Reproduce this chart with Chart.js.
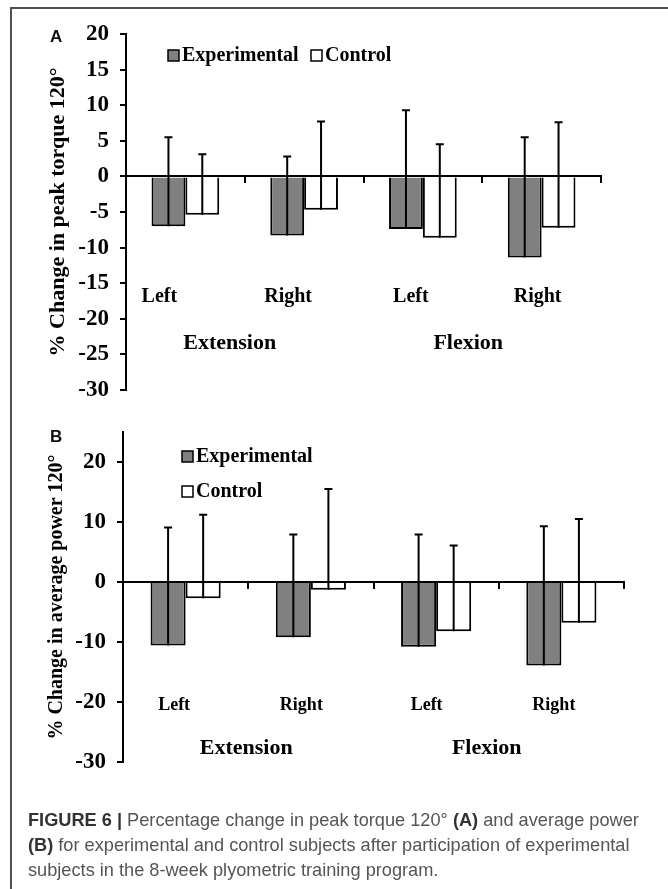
<!DOCTYPE html>
<html>
  <head>
    <script src="https://cdn.jsdelivr.net/npm/chart.js@4.4.0/dist/chart.umd.min.js"></script>
    <style>
      body {
        margin: 0;
        background: #fff;
        width: 668px;
        height: 889px;
        overflow: hidden;
        position: relative;
      }
      /* frame line round the figure (top and left only) */
      .frame {
        position: absolute;
        left: 10px;
        top: 7px;
        right: -5px;
        bottom: -5px;
        border-top: 2px solid #505050;
        border-left: 2px solid #505050;
      }
      canvas {
        position: absolute;
        left: 0;
      }
      .tag {
        position: absolute;
        left: 50px;
        font: bold 17px "Liberation Sans", Arial, sans-serif;
        color: #111;
      }
      .caption {
        position: absolute;
        left: 28px;
        top: 808px;
        width: 635px;
        font: 18.2px "Liberation Sans", Arial, sans-serif;
        line-height: 25px;
        color: #555;
        white-space: nowrap;
      }
      .caption b {
        color: #333;
      }
    </style>
  </head>
  <body>
    <div class="frame"></div>
    <canvas id="chartA" width="668" height="420" style="top:0px"></canvas>
    <canvas id="chartB" width="668" height="400" style="top:400px"></canvas>
    <div class="tag" style="top:27px">A</div>
    <div class="tag" style="top:427px">B</div>
    <div class="caption">
      <b>FIGURE 6 |</b> Percentage change in peak torque 120° <b>(A)</b> and average power<br>
      <b>(B)</b> for experimental and control subjects after participation of experimental<br>
      subjects in the 8-week plyometric training program.
    </div>
    <script>
      // categories
      var groups = ["Extension", "Flexion"];
      var sides = ["Left", "Right", "Left", "Right"];
      var seriesNames = ["Experimental", "Control"];

      // panel A: % change in peak torque 120°
      var torqueExp = [-7.0, -8.3, -7.4, -11.4];
      var torqueCtl = [-5.4, -4.7, -8.6, -7.2];
      var torqueExpSD = [12.5, 11.1, 16.7, 16.9];
      var torqueCtlSD = [8.5, 12.4, 13.1, 14.8];
      var torqueTicks = [20, 15, 10, 5, 0, -5, -10, -15, -20, -25, -30];

      // panel B: % change in average power 120°
      var powerExp = [-10.6, -9.2, -10.8, -13.9];
      var powerCtl = [-2.7, -1.3, -8.2, -6.8];
      var powerExpSD = [19.7, 17.1, 18.7, 23.2];
      var powerCtlSD = [13.9, 16.8, 14.3, 17.3];
      var powerTicks = [20, 10, 0, -10, -20, -30];

      var serif = "'Liberation Serif', 'Times New Roman', serif";

      // error bars: line from the bar end up through the bar, with a small cap
      var errorBars = {
        id: "errorBars",
        afterDatasetsDraw: function (chart) {
          var ctx = chart.ctx;
          var y = chart.scales.y;
          chart.data.datasets.forEach(function (ds, d) {
            chart.getDatasetMeta(d).data.forEach(function (bar, i) {
              var top = y.getPixelForValue(ds.data[i] + ds.sd[i]);
              ctx.save();
              ctx.strokeStyle = "#000";
              ctx.lineWidth = 2;
              ctx.beginPath();
              ctx.moveTo(bar.x, bar.y);
              ctx.lineTo(bar.x, top);
              ctx.moveTo(bar.x - 4, top);
              ctx.lineTo(bar.x + 4, top);
              ctx.stroke();
              ctx.restore();
            });
          });
        },
      };

      // side / group labels and the legend, placed like the text boxes of the original
      var extras = {
        id: "extras",
        afterDraw: function (chart) {
          var o = chart.options.plugins.extras;
          var ctx = chart.ctx;
          var x = chart.scales.x;
          var y = chart.scales.y;
          ctx.save();
          ctx.fillStyle = "#000";
          ctx.textAlign = "center";
          ctx.textBaseline = "alphabetic";

          ctx.font = "bold " + o.sideSize + "px " + serif;
          sides.forEach(function (s, i) {
            ctx.fillText(s, x.getPixelForValue(i) + o.sideShift[i], y.getPixelForValue(o.sideAt));
          });

          ctx.font = "bold 22px " + serif;
          groups.forEach(function (g, k) {
            var cx = (x.getPixelForValue(2 * k) + x.getPixelForValue(2 * k + 1)) / 2;
            ctx.fillText(g, cx + o.groupShift[k], y.getPixelForValue(o.groupAt));
          });

          // legend
          ctx.textAlign = "left";
          ctx.textBaseline = "middle";
          ctx.font = "bold 20px " + serif;
          chart.data.datasets.forEach(function (ds, d) {
            var p = o.legend[d];
            ctx.fillStyle = ds.backgroundColor;
            ctx.fillRect(p.x, p.y - 6, 11, 11);
            ctx.strokeStyle = "#000";
            ctx.lineWidth = 1.5;
            ctx.strokeRect(p.x, p.y - 6, 11, 11);
            ctx.fillStyle = "#000";
            ctx.fillText(ds.label, p.x + 14, p.y);
          });
          ctx.restore();
        },
      };

      function makeChart(id, p) {
        var ctx = document.getElementById(id).getContext("2d");
        return new Chart(ctx, {
          type: "bar",
          data: {
            labels: sides.map(function (s, i) {
              return groups[Math.floor(i / 2)] + " " + s;
            }),
            datasets: [
              {
                label: seriesNames[0],
                data: p.exp,
                sd: p.expSD,
                backgroundColor: "#808080",
                borderColor: "#000",
                borderWidth: 2,
              },
              {
                label: seriesNames[1],
                data: p.ctl,
                sd: p.ctlSD,
                backgroundColor: "#ffffff",
                borderColor: "#000",
                borderWidth: 2,
              },
            ],
          },
          options: {
            responsive: false,
            animation: false,
            events: [],
            layout: { padding: p.padding },
            datasets: {
              bar: { barPercentage: 1, categoryPercentage: p.catPct },
            },
            scales: {
              x: {
                position: { y: 0 },
                z: 1,
                offset: true,
                ticks: { display: false },
                grid: {
                  offset: true,
                  drawOnChartArea: false,
                  drawTicks: true,
                  tickLength: 6,
                  color: "#000",
                  lineWidth: 2,
                },
                border: { display: true, color: "#000", width: 2 },
              },
              y: {
                min: p.min,
                max: p.max,
                afterFit: function (scale) {
                  scale.width = p.axisX;
                },
                afterBuildTicks: function (scale) {
                  scale.ticks = p.ticks.map(function (v) {
                    return { value: v };
                  });
                },
                ticks: {
                  color: "#000",
                  padding: 11,
                  font: { family: serif, size: 23, weight: "bold" },
                },
                grid: {
                  drawOnChartArea: false,
                  drawTicks: true,
                  tickLength: 6,
                  color: "#000",
                  lineWidth: 2,
                },
                border: { display: true, color: "#000", width: 2 },
                title: {
                  display: true,
                  text: p.title,
                  color: "#000",
                  padding: { top: 45, bottom: 0 },
                  font: { family: serif, size: p.titleSize, weight: "bold" },
                },
              },
            },
            plugins: {
              legend: { display: false },
              tooltip: { enabled: false },
              extras: p.extras,
            },
          },
          plugins: [errorBars, extras],
        });
      }

      makeChart("chartA", {
        exp: torqueExp,
        ctl: torqueCtl,
        expSD: torqueExpSD,
        ctlSD: torqueCtlSD,
        ticks: torqueTicks,
        min: -30,
        max: 20,
        axisX: 126,
        catPct: 0.57,
        padding: { left: 0, top: 34, right: 67, bottom: 30 },
        title: "% Change in peak torque 120°",
        titleSize: 22,
        extras: {
          sideSize: 20,
          sideShift: [-26, -16, -12, -4],
          sideAt: -17.7,
          groupShift: [-15, -14],
          groupAt: -24.2,
          legend: [
            { x: 168, y: 56 },
            { x: 311, y: 56 },
          ],
        },
      });

      makeChart("chartB", {
        exp: powerExp,
        ctl: powerCtl,
        expSD: powerExpSD,
        ctlSD: powerCtlSD,
        ticks: powerTicks,
        min: -30,
        max: 25,
        axisX: 123,
        catPct: 0.56,
        padding: { left: 0, top: 32, right: 44, bottom: 38 },
        title: "% Change in average power 120°",
        titleSize: 20,
        extras: {
          sideSize: 18,
          sideShift: [-11.5, -9.5, -9.5, -7.5],
          sideAt: -21.25,
          groupShift: [-2, -12],
          groupAt: -28.6,
          legend: [
            { x: 182, y: 57 },
            { x: 182, y: 92 },
          ],
        },
      });
    </script>
  </body>
</html>
